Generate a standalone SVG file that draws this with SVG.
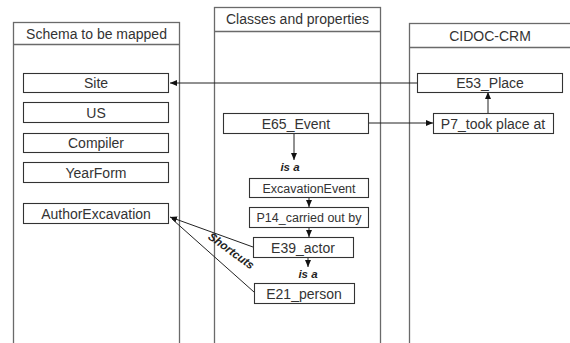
<svg xmlns="http://www.w3.org/2000/svg" width="570" height="343" viewBox="0 0 570 343">
  <defs>
    <marker id="arr" markerWidth="8" markerHeight="8" refX="7" refY="4" orient="auto" markerUnits="userSpaceOnUse">
      <path d="M0,1 L7,4 L0,7 Z" fill="#111"/>
    </marker>
  </defs>
  <style>
    .panel { fill: #fff; stroke: #6a6a6a; stroke-width: 1.3; }
    .box { fill: #fff; stroke: #333; stroke-width: 1.1; }
    .hdr { font-family: "Liberation Sans", Arial, sans-serif; font-size: 14px; fill: #333; text-anchor: middle; }
    .lbl { font-family: "Liberation Sans", Arial, sans-serif; font-size: 14px; fill: #333; text-anchor: middle; }
    .sm { font-size: 12.5px; }
    .rel { font-family: "Liberation Sans", Arial, sans-serif; font-size: 11.5px; font-weight: bold; font-style: italic; fill: #222; text-anchor: middle; }
    .conn { fill: none; stroke: #222; stroke-width: 1; }
  </style>
  <rect width="570" height="343" fill="#fff"/>

  <!-- swimlanes -->
  <g id="lane-schema">
    <rect class="panel" x="13.5" y="22.5" width="166" height="330"/>
    <line class="panel" x1="13.5" y1="44.5" x2="179.5" y2="44.5"/>
    <text class="hdr" x="96.5" y="39">Schema to be mapped</text>
  </g>
  <g id="lane-classes">
    <rect class="panel" x="214.5" y="7.5" width="166" height="345"/>
    <line class="panel" x1="214.5" y1="31.5" x2="380.5" y2="31.5"/>
    <text class="hdr" x="297.5" y="24">Classes and properties</text>
  </g>
  <g id="lane-cidoc">
    <rect class="panel" x="409.5" y="23.5" width="170" height="330"/>
    <line class="panel" x1="409.5" y1="47.5" x2="579.5" y2="47.5"/>
    <text class="hdr" x="490" y="41">CIDOC-CRM</text>
  </g>

  <!-- connectors -->
  <g id="connectors">
    <line class="conn" x1="417" y1="83" x2="170" y2="83" marker-end="url(#arr)"/>
    <line class="conn" x1="368" y1="123" x2="433" y2="123" marker-end="url(#arr)"/>
    <line class="conn" x1="488" y1="113" x2="488" y2="92" marker-end="url(#arr)"/>
    <line class="conn" x1="294" y1="133" x2="294" y2="160" marker-end="url(#arr)"/>
    <text class="rel" x="290" y="171">is a</text>
    <line class="conn" x1="309" y1="197" x2="309" y2="207" marker-end="url(#arr)"/>
    <line class="conn" x1="309" y1="227" x2="309" y2="237" marker-end="url(#arr)"/>
    <line class="conn" x1="308" y1="257" x2="308" y2="267" marker-end="url(#arr)"/>
    <text class="rel" x="308" y="278">is a</text>
    <line class="conn" x1="253" y1="247" x2="170" y2="217" marker-end="url(#arr)"/>
    <line class="conn" x1="254" y1="292" x2="172" y2="219"/>
    <text class="rel" transform="translate(229,254) rotate(36)" x="0" y="0">Shortcuts</text>
  </g>

  <!-- schema fields -->
  <g id="site"><rect class="box" x="23.5" y="73.5" width="145" height="19"/><text class="lbl" x="96" y="88">Site</text></g>
  <g id="us"><rect class="box" x="23.5" y="102.5" width="145" height="20"/><text class="lbl" x="96" y="117.5">US</text></g>
  <g id="compiler"><rect class="box" x="23.5" y="133.5" width="145" height="19"/><text class="lbl" x="96" y="148">Compiler</text></g>
  <g id="yearform"><rect class="box" x="23.5" y="162.5" width="145" height="20"/><text class="lbl" x="96" y="177.5">YearForm</text></g>
  <g id="authorexcavation"><rect class="box" x="23.5" y="203.5" width="145" height="20"/><text class="lbl" x="96" y="218.5">AuthorExcavation</text></g>

  <!-- classes and properties -->
  <g id="e65-event"><rect class="box" x="223.5" y="113.5" width="145" height="20"/><text class="lbl" x="296" y="128.5">E65_Event</text></g>
  <g id="excavation-event"><rect class="box" x="249.5" y="178.5" width="119" height="19"/><text class="lbl sm" x="309" y="192.5">ExcavationEvent</text></g>
  <g id="p14"><rect class="box" x="249.5" y="207.5" width="119" height="20"/><text class="lbl sm" x="309" y="222">P14_carried out by</text></g>
  <g id="e39-actor"><rect class="box" x="253.5" y="237.5" width="100" height="20"/><text class="lbl" x="303" y="252.5">E39_actor</text></g>
  <g id="e21-person"><rect class="box" x="254.5" y="283.5" width="100" height="20"/><text class="lbl" x="304" y="298.5">E21_person</text></g>

  <!-- CIDOC-CRM -->
  <g id="e53-place"><rect class="box" x="417.5" y="73.5" width="145" height="19"/><text class="lbl" x="490" y="88">E53_Place</text></g>
  <g id="p7"><rect class="box" x="433.5" y="113.5" width="120" height="20"/><text class="lbl" x="493" y="128.5">P7_took place at</text></g>
</svg>
